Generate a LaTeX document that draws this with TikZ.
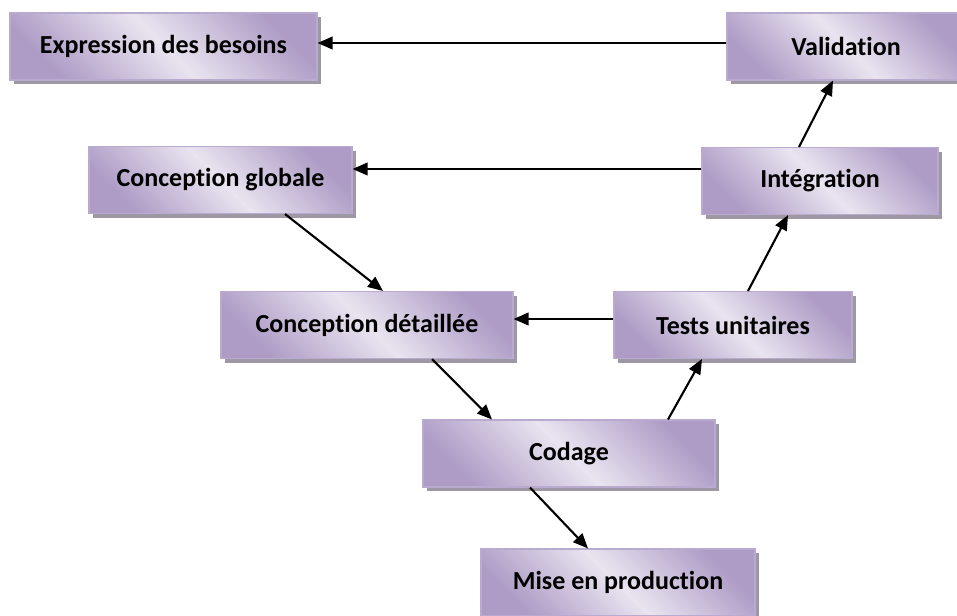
\documentclass[tikz,border=0pt]{standalone}
\usepackage{fontspec}
\setmainfont{Carlito}[Ligatures={NoCommon}]
\usetikzlibrary{arrows.meta,shadows}
\definecolor{lavdark}{HTML}{AE9CC6}
\definecolor{lavlight}{HTML}{E9E4F0}
\definecolor{lavline}{HTML}{B9AACF}
\definecolor{boxshadow}{HTML}{9D98A3}

\begin{document}
\begin{tikzpicture}[
  x=0.2mm, y=-0.2mm,
  phase/.style={draw=lavline, line width=0.6pt, left color=lavdark, right color=lavdark,
    middle color=lavlight, shading angle=135, minimum height=13.4mm, inner sep=0pt,
    font=\fontsize{14.8}{17}\selectfont\bfseries,
    drop shadow={shadow xshift=0.8mm, shadow yshift=-0.8mm, fill=boxshadow, opacity=1}},
  flow/.style={-{Triangle[length=3mm,width=2.5mm]}, line width=1.2pt}
]
\clip (0,0) rectangle (957,615);
\node[phase, minimum width=61.4mm] (besoins) at (163.5,46.5) {Expression des besoins};
\node[phase, minimum width=47.6mm] (validation) at (846,46.5) {Validation};
\node[phase, minimum width=52.6mm] (globale) at (220.5,180) {Conception globale};
\node[phase, minimum width=47.2mm] (integration) at (820,181) {Intégration};
\node[phase, minimum width=58.4mm] (detaillee) at (367,325) {Conception détaillée};
\node[phase, minimum width=47.6mm] (tests) at (733,325) {Tests unitaires};
\node[phase, minimum width=58.4mm] (codage) at (569,453.5) {Codage};
\node[phase, minimum width=54.8mm] (production) at (618,582.5) {Mise en production};

\draw[flow] (validation.west |- 0,43) -- (besoins.east |- 0,43);
\draw[flow] (integration.west |- 0,169) -- (globale.east |- 0,169);
\draw[flow] (tests.west |- 0,319) -- (detaillee.east |- 0,319);
\draw[flow] (globale.south -| 285,0) -- (detaillee.north -| 383,0);
\draw[flow] (detaillee.south -| 432,0) -- (codage.north -| 492,0);
\draw[flow] (codage.south -| 530,0) -- (production.north -| 588,0);
\draw[flow] (codage.north -| 668,0) -- (tests.south -| 702,0);
\draw[flow] (tests.north -| 748,0) -- (integration.south -| 788,0);
\draw[flow] (integration.north -| 799,0) -- (validation.south -| 833,0);
\end{tikzpicture}
\end{document}
